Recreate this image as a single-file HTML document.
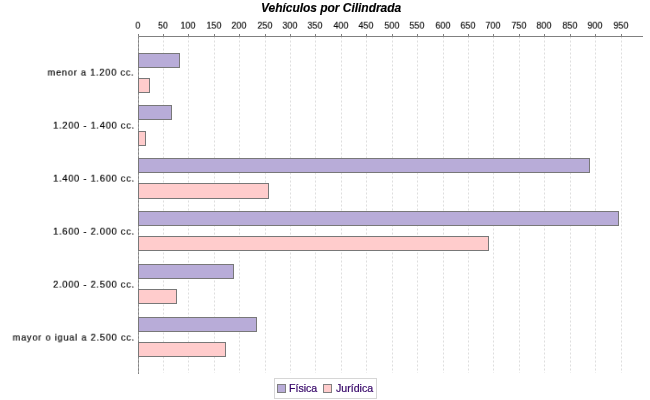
<!DOCTYPE html>
<html><head><meta charset="utf-8"><title>Vehículos por Cilindrada</title>
<style>
html,body{margin:0;padding:0;background:#fff;}
body{width:650px;height:400px;position:relative;overflow:hidden;font-family:"Liberation Sans",sans-serif;color:#000;}
.a{position:absolute;}
.ln{position:absolute;background:#808080;}
.g{position:absolute;width:1px;top:36px;height:337px;background:repeating-linear-gradient(to bottom,#eeeeee 0,#eeeeee 1px,#dedede 1px,#dedede 2px,#eeeeee 2px,#eeeeee 3px,transparent 3px,transparent 4px);}
.t{-webkit-text-stroke:0.2px #000;position:absolute;top:20.2px;width:40px;text-align:center;font-size:10px;line-height:12px;letter-spacing:0.3px;will-change:transform;transform:scale(0.85,0.86);transform-origin:50% 50%;white-space:nowrap;}
.c{position:absolute;right:515.3px;line-height:12px;white-space:nowrap;text-align:right;will-change:transform;transform-origin:100% 50%;transform:scale(0.92,0.86);font-size:10px;letter-spacing:0.85px;-webkit-text-stroke:0.2px #000;}
.b{position:absolute;left:138px;box-sizing:border-box;border:1px solid #787878;}
.p{background:#b8acd8;}
.k{background:#ffcccc;}
.title{-webkit-text-stroke:0.15px #000;will-change:transform;position:absolute;left:261.3px;top:1px;font-size:12px;letter-spacing:-0.03px;line-height:14px;font-weight:bold;font-style:italic;white-space:nowrap;}
.lg{position:absolute;left:274px;top:378px;width:103px;height:21px;box-sizing:border-box;border:1px solid #d6d6d6;background:#fff;}
.sw{position:absolute;width:9px;height:9px;box-sizing:border-box;border:1px solid #808080;top:384px;}
.lt{position:absolute;line-height:13px;color:#330066;top:382px;white-space:nowrap;font-size:10.6px;will-change:transform;-webkit-text-stroke:0.2px #330066;}
</style></head><body>

<div class="title">Vehículos por Cilindrada</div>
<div class="g" style="left:163px"></div>
<div class="g" style="left:188px"></div>
<div class="g" style="left:214px"></div>
<div class="g" style="left:239px"></div>
<div class="g" style="left:265px"></div>
<div class="g" style="left:290px"></div>
<div class="g" style="left:315px"></div>
<div class="g" style="left:341px"></div>
<div class="g" style="left:366px"></div>
<div class="g" style="left:392px"></div>
<div class="g" style="left:417px"></div>
<div class="g" style="left:443px"></div>
<div class="g" style="left:468px"></div>
<div class="g" style="left:493px"></div>
<div class="g" style="left:519px"></div>
<div class="g" style="left:544px"></div>
<div class="g" style="left:570px"></div>
<div class="g" style="left:595px"></div>
<div class="g" style="left:621px"></div>
<div class="ln" style="left:138px;top:36px;width:505px;height:1px"></div>
<div class="a" style="left:138px;top:36px;width:1px;height:338px;background:repeating-linear-gradient(to bottom,#929292 0,#929292 1px,#828282 1px,#828282 2px,#929292 2px,#929292 3px,#a6a6a6 3px,#a6a6a6 4px);"></div>
<div class="ln" style="left:138px;top:34px;width:1px;height:2px"></div>
<div class="t" style="left:118px">0</div>
<div class="ln" style="left:163px;top:34px;width:1px;height:2px"></div>
<div class="t" style="left:143px">50</div>
<div class="ln" style="left:188px;top:34px;width:1px;height:2px"></div>
<div class="t" style="left:168.4px">100</div>
<div class="ln" style="left:214px;top:34px;width:1px;height:2px"></div>
<div class="t" style="left:194.4px">150</div>
<div class="ln" style="left:239px;top:34px;width:1px;height:2px"></div>
<div class="t" style="left:219.4px">200</div>
<div class="ln" style="left:265px;top:34px;width:1px;height:2px"></div>
<div class="t" style="left:245.4px">250</div>
<div class="ln" style="left:290px;top:34px;width:1px;height:2px"></div>
<div class="t" style="left:270.4px">300</div>
<div class="ln" style="left:315px;top:34px;width:1px;height:2px"></div>
<div class="t" style="left:295.4px">350</div>
<div class="ln" style="left:341px;top:34px;width:1px;height:2px"></div>
<div class="t" style="left:321.4px">400</div>
<div class="ln" style="left:366px;top:34px;width:1px;height:2px"></div>
<div class="t" style="left:346.4px">450</div>
<div class="ln" style="left:392px;top:34px;width:1px;height:2px"></div>
<div class="t" style="left:372.4px">500</div>
<div class="ln" style="left:417px;top:34px;width:1px;height:2px"></div>
<div class="t" style="left:397.4px">550</div>
<div class="ln" style="left:443px;top:34px;width:1px;height:2px"></div>
<div class="t" style="left:423.4px">600</div>
<div class="ln" style="left:468px;top:34px;width:1px;height:2px"></div>
<div class="t" style="left:448.4px">650</div>
<div class="ln" style="left:493px;top:34px;width:1px;height:2px"></div>
<div class="t" style="left:473.4px">700</div>
<div class="ln" style="left:519px;top:34px;width:1px;height:2px"></div>
<div class="t" style="left:499.4px">750</div>
<div class="ln" style="left:544px;top:34px;width:1px;height:2px"></div>
<div class="t" style="left:524.4px">800</div>
<div class="ln" style="left:570px;top:34px;width:1px;height:2px"></div>
<div class="t" style="left:550.4px">850</div>
<div class="ln" style="left:595px;top:34px;width:1px;height:2px"></div>
<div class="t" style="left:575.4px">900</div>
<div class="ln" style="left:621px;top:34px;width:1px;height:2px"></div>
<div class="t" style="left:601.4px">950</div>
<div class="b p" style="top:53px;height:15px;width:42px"></div>
<div class="b k" style="top:78px;height:15px;width:12px"></div>
<div class="c" style="top:67px">menor a 1.200 cc.</div>
<div class="b p" style="top:105px;height:15px;width:34px"></div>
<div class="b k" style="top:131px;height:15px;width:8px"></div>
<div class="c" style="top:120px">1.200 - 1.400 cc.</div>
<div class="b p" style="top:158px;height:15px;width:452px"></div>
<div class="b k" style="top:183px;height:16px;width:131px"></div>
<div class="c" style="top:173px">1.400 - 1.600 cc.</div>
<div class="b p" style="top:211px;height:15px;width:481px"></div>
<div class="b k" style="top:236px;height:15px;width:351px"></div>
<div class="c" style="top:226px">1.600 - 2.000 cc.</div>
<div class="b p" style="top:264px;height:15px;width:96px"></div>
<div class="b k" style="top:289px;height:15px;width:39px"></div>
<div class="c" style="top:279px">2.000 - 2.500 cc.</div>
<div class="b p" style="top:317px;height:15px;width:119px"></div>
<div class="b k" style="top:342px;height:15px;width:88px"></div>
<div class="c" style="top:332px">mayor o igual a 2.500 cc.</div>
<div class="lg"></div>
<div class="sw p" style="left:277px"></div><div class="lt" style="left:289px">Física</div>
<div class="sw k" style="left:323px"></div><div class="lt" style="left:336px">Jurídica</div>
</body></html>
